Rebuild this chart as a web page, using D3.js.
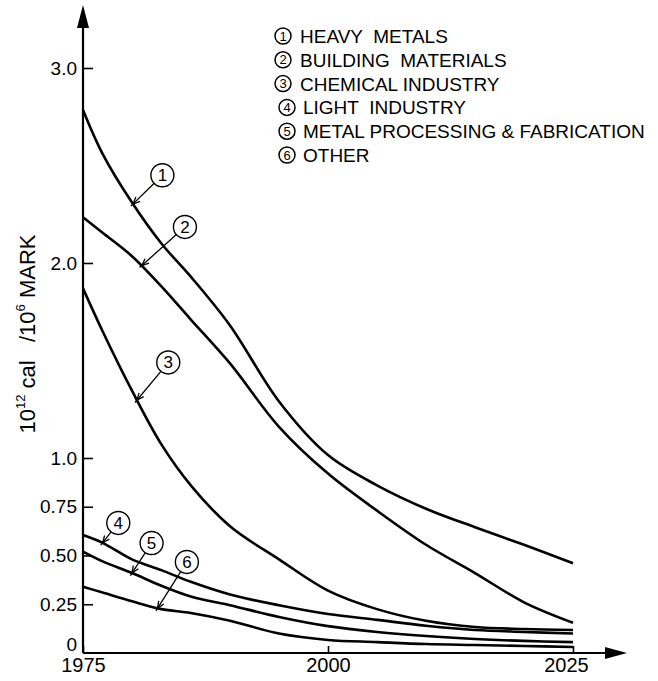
<!DOCTYPE html>
<html>
<head>
<meta charset="utf-8">
<script src="https://cdn.jsdelivr.net/npm/d3@7"></script>
<style>
  body { margin: 0; background: #fff; }
  svg { font-family: "Liberation Sans", Arial, sans-serif; }
  text { white-space: pre; }
</style>
</head>
<body>
<div id="chart"></div>
<script>
// Chart size
var w = 658;
var h = 681;

// Data
var years = [1975, 1977, 1980, 1983, 1986, 1990, 1995, 2000, 2005, 2010, 2015, 2020, 2025];

var heavyMetals       = [2.785, 2.56, 2.31, 2.10, 1.93, 1.68, 1.29, 1.015, 0.86, 0.74, 0.645, 0.555, 0.46];
var buildingMaterials = [2.235, 2.155, 2.035, 1.88, 1.71, 1.485, 1.16, 0.92, 0.73, 0.555, 0.41, 0.26, 0.155];
var chemicalIndustry  = [1.87, 1.65, 1.345, 1.07, 0.86, 0.65, 0.48, 0.32, 0.225, 0.165, 0.133, 0.123, 0.118];
var lightIndustry     = [0.605, 0.565, 0.48, 0.425, 0.365, 0.30, 0.245, 0.20, 0.17, 0.14, 0.118, 0.108, 0.10];
var metalProcessing   = [0.52, 0.47, 0.41, 0.345, 0.29, 0.245, 0.185, 0.138, 0.108, 0.087, 0.072, 0.062, 0.056];
var otherIndustry     = [0.34, 0.31, 0.265, 0.225, 0.205, 0.165, 0.10, 0.067, 0.056, 0.046, 0.041, 0.036, 0.031];

var seriesNames = ["HEAVY  METALS", "BUILDING  MATERIALS", "CHEMICAL INDUSTRY",
                   "LIGHT  INDUSTRY", "METAL PROCESSING & FABRICATION", "OTHER"];

// numbered callouts: circle position (year, value) and where the leader meets the curve
var calloutYear  = [1983.1, 1985.4, 1983.7, 1978.6, 1982.0, 1985.6];
var calloutValue = [2.45, 2.185, 1.49, 0.667, 0.564, 0.467];
var leaderYear   = [1980.1, 1981.0, 1980.5, 1977.0, 1980.0, 1982.6];

var yTickValues = [0, 0.25, 0.5, 0.75, 1, 2, 3];
var yTickLabels = ["0", "0.25", "0.50", "0.75", "1.0", "2.0", "3.0"];
var xTickValues = [1975, 2000, 2025];

var allSeries = [heavyMetals, buildingMaterials, chemicalIndustry, lightIndustry, metalProcessing, otherIndustry];

var xScale = d3.scaleLinear()
    .domain([1975, 2025])
    .range([83, 573]);

var yScale = d3.scaleLinear()
    .domain([0, 3])
    .range([653, 68]);

var svg = d3.select("#chart")
    .append("svg")
    .attr("width", w)
    .attr("height", h);

// Y axis: ticks point into the plot, labels on the left
var yAxis = d3.axisLeft(yScale)
    .tickValues(yTickValues)
    .tickFormat(function(d, i) { return yTickLabels[i]; })
    .tickSize(-10)
    .tickSizeOuter(0)
    .tickPadding(6);

var gy = svg.append("g")
    .attr("transform", "translate(" + xScale(1975) + ",0)")
    .call(yAxis);

gy.select(".domain").remove();
gy.selectAll(".tick line")
    .attr("stroke", "#000")
    .attr("stroke-width", 1.6)
    .filter(function(d) { return d === 0; })
    .remove();
gy.selectAll(".tick text")
    .attr("font-size", 19)
    .attr("font-family", "Liberation Sans, Arial, sans-serif")
    .attr("fill", "#000")
    .filter(function(d) { return d === 0; })
    .attr("dy", "-0.15em");

// X axis: small upward tick at 2000
var xAxis = d3.axisBottom(xScale)
    .tickValues(xTickValues)
    .tickFormat(d3.format("d"))
    .tickSize(-7)
    .tickSizeOuter(0)
    .tickPadding(5);

var gx = svg.append("g")
    .attr("transform", "translate(0," + yScale(0) + ")")
    .call(xAxis);

gx.select(".domain").remove();
gx.selectAll(".tick line")
    .attr("stroke", "#000")
    .attr("stroke-width", 1.6);
gx.selectAll(".tick text")
    .attr("font-size", 20)
    .attr("font-family", "Liberation Sans, Arial, sans-serif")
    .attr("fill", "#000")
    .attr("dx", function(d) { return d === 2025 ? -7 : 0; });

// Axis lines with arrow heads
var x0 = xScale(1975), y0 = yScale(0);
svg.append("line")
    .attr("x1", x0).attr("y1", y0)
    .attr("x2", x0).attr("y2", 20)
    .attr("stroke", "#000").attr("stroke-width", 2.2);
svg.append("path")
    .attr("d", "M" + x0 + ",5 L" + (x0 - 6) + ",28 L" + (x0 + 6) + ",28 Z")
    .attr("fill", "#000");

svg.append("line")
    .attr("x1", x0).attr("y1", y0)
    .attr("x2", 612).attr("y2", y0)
    .attr("stroke", "#000").attr("stroke-width", 2.2);
svg.append("path")
    .attr("d", "M627," + y0 + " L605," + (y0 - 6) + " L605," + (y0 + 6) + " Z")
    .attr("fill", "#000");

// Y axis title
var yTitle = svg.append("text")
    .attr("transform", "translate(35," + 334 + ") rotate(-90)")
    .attr("text-anchor", "middle")
    .attr("font-size", 22)
    .attr("fill", "#000");
yTitle.append("tspan").text("10");
yTitle.append("tspan").attr("font-size", 13).attr("dy", -10).text("12");
yTitle.append("tspan").attr("dy", 10).text(" cal   /10");
yTitle.append("tspan").attr("font-size", 13).attr("dy", -10).text("6");
yTitle.append("tspan").attr("dy", 10).text(" MARK");

// Curves
var line = d3.line()
    .x(function(d, i) { return xScale(years[i]); })
    .y(function(d) { return yScale(d); })
    .curve(d3.curveCatmullRom.alpha(0.5));

var paths = svg.selectAll("path.curve")
    .data(allSeries)
    .enter()
    .append("path")
    .attr("class", "curve")
    .attr("d", line)
    .attr("fill", "none")
    .attr("stroke", "#000")
    .attr("stroke-width", 2.6);

// find the point on a drawn curve at a given screen x
function pointAtX(node, px) {
    var lo = 0, hi = node.getTotalLength(), p;
    for (var k = 0; k < 40; k++) {
        var mid = (lo + hi) / 2;
        p = node.getPointAtLength(mid);
        if (p.x < px) lo = mid; else hi = mid;
    }
    return p;
}

// Callout leaders and numbered circles
var r = 11.5;
paths.each(function(d, i) {
    var cx = xScale(calloutYear[i]);
    var cy = yScale(calloutValue[i]);
    var p = pointAtX(this, xScale(leaderYear[i]));
    var dx = p.x - cx, dy = p.y - cy;
    var len = Math.sqrt(dx * dx + dy * dy);
    var ux = dx / len, uy = dy / len;

    svg.append("line")
        .attr("x1", cx + ux * r).attr("y1", cy + uy * r)
        .attr("x2", p.x + ux * 3).attr("y2", p.y + uy * 3)
        .attr("stroke", "#000")
        .attr("stroke-width", 1.3);

    // small arrow head at the curve
    var ax = p.x - ux * 7, ay = p.y - uy * 7;
    svg.append("path")
        .attr("d", "M" + (ax - uy * 3) + "," + (ay + ux * 3) + " L" + p.x + "," + p.y +
                   " L" + (ax + uy * 3) + "," + (ay - ux * 3))
        .attr("fill", "none")
        .attr("stroke", "#000")
        .attr("stroke-width", 1.3);

    svg.append("circle")
        .attr("cx", cx).attr("cy", cy).attr("r", r)
        .attr("fill", "#fff")
        .attr("stroke", "#000")
        .attr("stroke-width", 1.4);

    svg.append("text")
        .attr("x", cx).attr("y", cy + 6)
        .attr("text-anchor", "middle")
        .attr("font-size", 17)
        .attr("fill", "#000")
        .text(i + 1);
});

// Legend
var legend = svg.selectAll("g.legend")
    .data(seriesNames)
    .enter()
    .append("g")
    .attr("class", "legend")
    .attr("transform", function(d, i) {
        return "translate(" + (i < 3 ? 283 : 287) + "," + (36 + i * 23.8) + ")";
    });

legend.append("circle")
    .attr("r", 8)
    .attr("fill", "none")
    .attr("stroke", "#000")
    .attr("stroke-width", 1.5);

legend.append("text")
    .attr("y", 4.5)
    .attr("text-anchor", "middle")
    .attr("font-size", 13)
    .attr("fill", "#000")
    .text(function(d, i) { return i + 1; });

legend.append("text")
    .attr("x", function(d, i) { return i < 3 ? 17 : 16; })
    .attr("y", 7)
    .attr("font-size", 19)
    .attr("fill", "#000")
    .text(function(d) { return d; });
</script>
</body>
</html>
